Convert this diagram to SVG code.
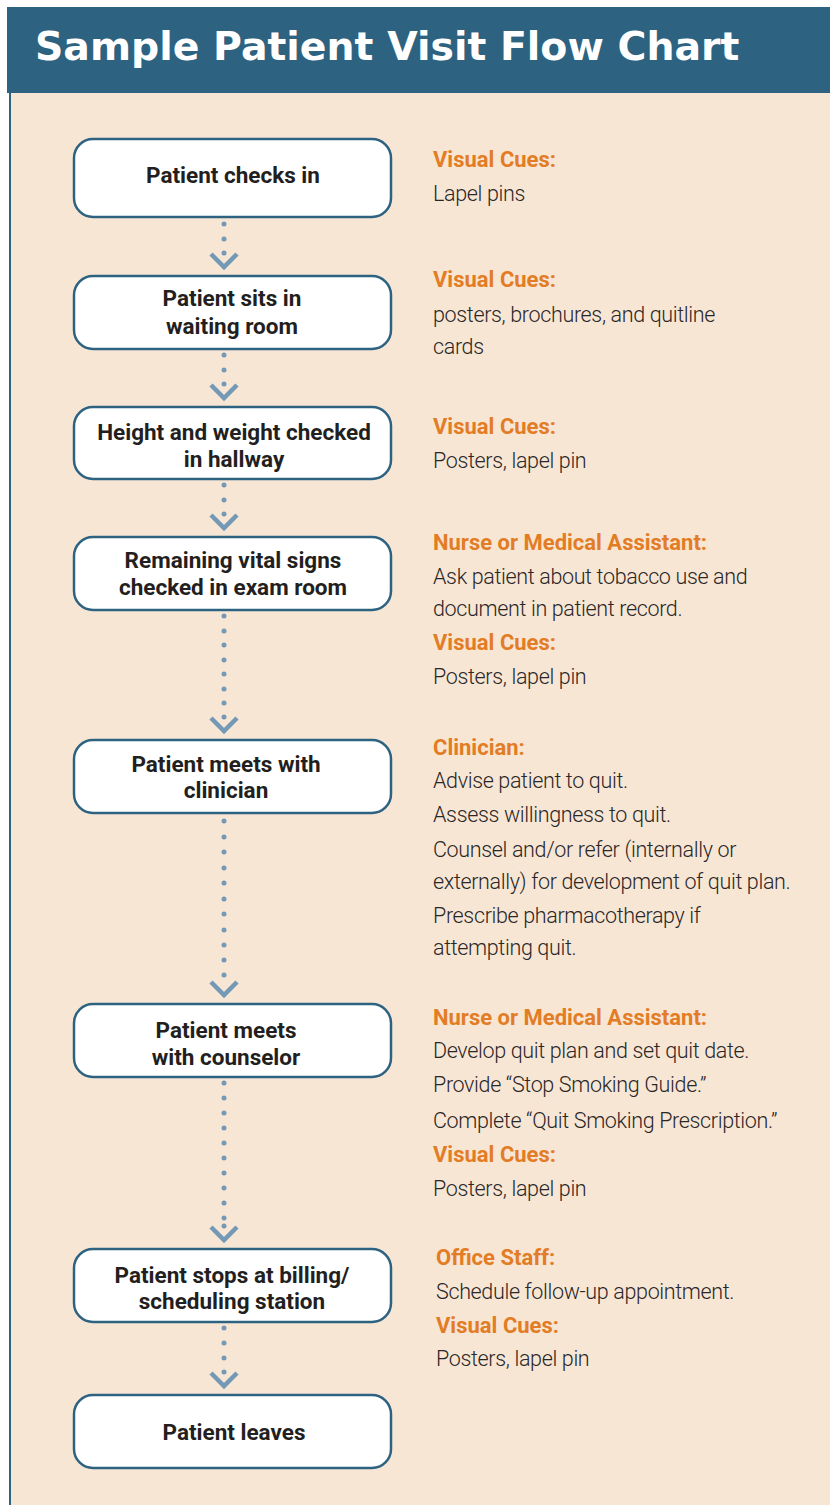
<svg xmlns="http://www.w3.org/2000/svg" width="830" height="1505" viewBox="0 0 830 1505">
<defs>
<style>
.node rect{fill:#ffffff;stroke:#2D6381;stroke-width:2.5}
.nt{font-family:Roboto,"Liberation Sans",sans-serif;font-weight:700;font-size:22.5px;fill:#231F20;text-anchor:middle}
.hd{font-family:Roboto,"Liberation Sans",sans-serif;font-weight:700;font-size:22px;fill:#E27D25}
.bd{font-family:Roboto,"Liberation Sans",sans-serif;font-weight:300;font-size:21.5px;letter-spacing:-0.35px;fill:#2A2727}
.dot{fill:#7399B6}
.chev{fill:none;stroke:#7399B6;stroke-width:4.5}
</style>
</defs>
<rect x="0" y="0" width="830" height="1505" fill="#ffffff"/>
<rect x="10" y="93" width="820" height="1412" fill="#F8E6D5"/>
<rect x="9" y="93" width="2" height="1412" fill="#2D6381"/>
<g id="header">
<rect x="7" y="7" width="823" height="86" fill="#2D6381"/>
<text x="35" y="60" font-family="'DejaVu Sans',sans-serif" font-weight="700" font-size="39.4" fill="#ffffff">Sample Patient Visit Flow Chart</text>
</g>
<g id="connectors">
<circle class="dot" cx="224" cy="224" r="2.5"/><circle class="dot" cx="224" cy="239" r="2.5"/><circle class="dot" cx="224" cy="253" r="2.5"/>
<polyline class="chev" points="211,254 224,267 237,254"/>
<circle class="dot" cx="224" cy="355" r="2.5"/><circle class="dot" cx="224" cy="370" r="2.5"/><circle class="dot" cx="224" cy="384" r="2.5"/>
<polyline class="chev" points="211,385 224,398 237,385"/>
<circle class="dot" cx="224" cy="485" r="2.5"/><circle class="dot" cx="224" cy="500" r="2.5"/><circle class="dot" cx="224" cy="514" r="2.5"/>
<polyline class="chev" points="211,515 224,528 237,515"/>
<circle class="dot" cx="224" cy="616" r="2.5"/><circle class="dot" cx="224" cy="631" r="2.5"/><circle class="dot" cx="224" cy="645" r="2.5"/><circle class="dot" cx="224" cy="660" r="2.5"/><circle class="dot" cx="224" cy="674" r="2.5"/><circle class="dot" cx="224" cy="689" r="2.5"/><circle class="dot" cx="224" cy="703" r="2.5"/><circle class="dot" cx="224" cy="717" r="2.5"/>
<polyline class="chev" points="211,718 224,731 237,718"/>
<circle class="dot" cx="224" cy="821" r="2.5"/><circle class="dot" cx="224" cy="837" r="2.5"/><circle class="dot" cx="224" cy="852" r="2.5"/><circle class="dot" cx="224" cy="868" r="2.5"/><circle class="dot" cx="224" cy="883" r="2.5"/><circle class="dot" cx="224" cy="899" r="2.5"/><circle class="dot" cx="224" cy="914" r="2.5"/><circle class="dot" cx="224" cy="930" r="2.5"/><circle class="dot" cx="224" cy="945" r="2.5"/><circle class="dot" cx="224" cy="960" r="2.5"/><circle class="dot" cx="224" cy="975" r="2.5"/>
<polyline class="chev" points="211,982 224,995 237,982"/>
<circle class="dot" cx="224" cy="1083" r="2.5"/><circle class="dot" cx="224" cy="1098" r="2.5"/><circle class="dot" cx="224" cy="1113" r="2.5"/><circle class="dot" cx="224" cy="1128" r="2.5"/><circle class="dot" cx="224" cy="1143" r="2.5"/><circle class="dot" cx="224" cy="1158" r="2.5"/><circle class="dot" cx="224" cy="1173" r="2.5"/><circle class="dot" cx="224" cy="1188" r="2.5"/><circle class="dot" cx="224" cy="1203" r="2.5"/><circle class="dot" cx="224" cy="1218" r="2.5"/><circle class="dot" cx="224" cy="1226" r="2.5"/>
<polyline class="chev" points="211,1227 224,1240 237,1227"/>
<circle class="dot" cx="224" cy="1328" r="2.5"/><circle class="dot" cx="224" cy="1343" r="2.5"/><circle class="dot" cx="224" cy="1358" r="2.5"/><circle class="dot" cx="224" cy="1372" r="2.5"/>
<polyline class="chev" points="211,1373 224,1386 237,1373"/>
</g>
<g id="n1" class="node"><rect x="74" y="139" width="317" height="78" rx="19"/><text class="nt" x="233" y="183">Patient checks in</text></g>
<g id="n2" class="node"><rect x="74" y="276" width="317" height="73" rx="19"/><text class="nt" x="232" y="306">Patient sits in</text><text class="nt" x="232" y="334">waiting room</text></g>
<g id="n3" class="node"><rect x="74" y="407" width="317" height="72" rx="19"/><text class="nt" x="234" y="440">Height and weight checked</text><text class="nt" x="234" y="467">in hallway</text></g>
<g id="n4" class="node"><rect x="74" y="537" width="317" height="73" rx="19"/><text class="nt" x="233" y="568">Remaining vital signs</text><text class="nt" x="233" y="595">checked in exam room</text></g>
<g id="n5" class="node"><rect x="74" y="740" width="317" height="73" rx="19"/><text class="nt" x="226" y="772">Patient meets with</text><text class="nt" x="226" y="798">clinician</text></g>
<g id="n6" class="node"><rect x="74" y="1004" width="317" height="73" rx="19"/><text class="nt" x="226" y="1038">Patient meets</text><text class="nt" x="226" y="1065">with counselor</text></g>
<g id="n7" class="node"><rect x="74" y="1249" width="317" height="73" rx="19"/><text class="nt" x="232" y="1283">Patient stops at billing/</text><text class="nt" x="232" y="1309">scheduling station</text></g>
<g id="n8" class="node"><rect x="74" y="1395" width="317" height="73" rx="19"/><text class="nt" x="234" y="1440">Patient leaves</text></g>
<g id="notes">
<text class="hd" x="433" y="167">Visual Cues:</text>
<text class="bd" x="433" y="201">Lapel pins</text>
<text class="hd" x="433" y="287">Visual Cues:</text>
<text class="bd" x="433" y="322">posters, brochures, and quitline</text>
<text class="bd" x="433" y="354">cards</text>
<text class="hd" x="433" y="434">Visual Cues:</text>
<text class="bd" x="433" y="468">Posters, lapel pin</text>
<text class="hd" x="433" y="550">Nurse or Medical Assistant:</text>
<text class="bd" x="433" y="584">Ask patient about tobacco use and</text>
<text class="bd" x="433" y="616">document in patient record.</text>
<text class="hd" x="433" y="650">Visual Cues:</text>
<text class="bd" x="433" y="684">Posters, lapel pin</text>
<text class="hd" x="433" y="755">Clinician:</text>
<text class="bd" x="433" y="788">Advise patient to quit.</text>
<text class="bd" x="433" y="822">Assess willingness to quit.</text>
<text class="bd" x="433" y="857">Counsel and/or refer (internally or</text>
<text class="bd" x="433" y="889">externally) for development of quit plan.</text>
<text class="bd" x="433" y="923">Prescribe pharmacotherapy if</text>
<text class="bd" x="433" y="955">attempting quit.</text>
<text class="hd" x="433" y="1025">Nurse or Medical Assistant:</text>
<text class="bd" x="433" y="1058">Develop quit plan and set quit date.</text>
<text class="bd" x="433" y="1092">Provide “Stop Smoking Guide.”</text>
<text class="bd" x="433" y="1128">Complete “Quit Smoking Prescription.”</text>
<text class="hd" x="433" y="1162">Visual Cues:</text>
<text class="bd" x="433" y="1196">Posters, lapel pin</text>
<text class="hd" x="436" y="1265">Office Staff:</text>
<text class="bd" x="436" y="1299">Schedule follow-up appointment.</text>
<text class="hd" x="436" y="1333">Visual Cues:</text>
<text class="bd" x="436" y="1366">Posters, lapel pin</text>
</g>
</svg>
